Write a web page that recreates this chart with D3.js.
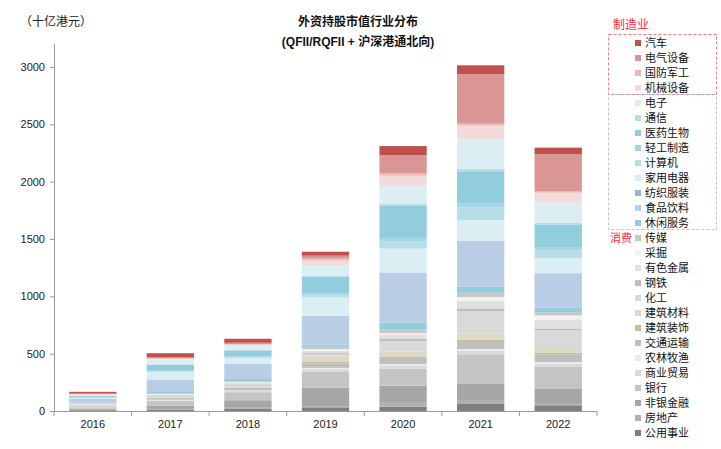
<!DOCTYPE html>
<html>
<head>
<meta charset="utf-8">
<script src="https://cdn.jsdelivr.net/npm/d3@7"></script>
<style>
  body { margin: 0; background: #fff; }
  svg { font-family: "Liberation Sans", "Noto Sans CJK SC", sans-serif; }
</style>
</head>
<body>
<div id="chart"></div>
<script>
/* years on the x-axis */
var years = ["2016", "2017", "2018", "2019", "2020", "2021", "2022"];

/* sectors, bottom of the stack first */
var sectors = ["公用事业", "房地产", "非银金融", "银行", "商业贸易", "农林牧渔", "交通运输",
  "建筑装饰", "建筑材料", "化工", "钢铁", "有色金属", "采掘", "传媒",
  "休闲服务", "食品饮料", "纺织服装", "家用电器", "计算机", "轻工制造", "医药生物", "通信", "电子",
  "机械设备", "国防军工", "电气设备", "汽车"];

var colors = ["#7f7f7f", "#b0b0b0", "#a6a6a6", "#c4c4c4", "#d9d9d9", "#ebebeb", "#bfbfbf",
  "#c4bd97", "#ddd9c4", "#d9d9d9", "#bdbdbd", "#e0e0e0", "#f2f2f2", "#c8c8c8",
  "#93cddd", "#b9cde5", "#95b3d7", "#dbeef4", "#b7dde8", "#a5d5e2", "#92cddc", "#b7dde8", "#dbeef4",
  "#f2dcdb", "#e6b9b8", "#d99694", "#c0504d"];

/* market value per sector (bn HKD), one array per year, same order as sectors */
var v2016 = [7, 3, 10, 12, 3, 2, 6, 2, 5, 6, 2, 3, 2, 4, 4, 34, 2, 6, 3, 3, 11, 3, 8, 4, 2, 6, 14];
var v2017 = [12, 6, 30, 40, 6, 4, 14, 3, 8, 12, 4, 6, 4, 8, 9, 105, 3, 67, 5, 5, 52, 3, 44, 5, 5, 9, 35];
var v2018 = [22, 12, 60, 70, 10, 6, 20, 5, 12, 15, 6, 8, 6, 10, 17, 128, 3, 49, 8, 8, 52, 5, 41, 5, 5, 12, 35];
var v2019 = [32, 6, 166, 140, 20, 12, 38, 15, 47, 20, 9, 20, 15, 20, 20, 244, 6, 160, 23, 15, 140, 12, 87, 47, 20, 20, 35];
var v2020 = [38, 41, 142, 148, 29, 12, 52, 12, 44, 93, 17, 38, 12, 35, 58, 430, 6, 209, 64, 23, 285, 17, 157, 90, 20, 160, 78];
var v2021 = [61, 35, 145, 253, 29, 17, 61, 20, 55, 195, 23, 64, 35, 38, 52, 395, 6, 180, 113, 35, 279, 23, 253, 122, 17, 430, 78];
var v2022 = [50, 12, 135, 192, 23, 15, 64, 17, 41, 154, 17, 78, 35, 29, 38, 294, 6, 131, 70, 23, 203, 15, 174, 87, 15, 320, 58];

var yTicks = [0, 500, 1000, 1500, 2000, 2500, 3000];

/* legend order, as listed on the right */
var legendOrder = sectors.slice().reverse();

var allValues = [v2016, v2017, v2018, v2019, v2020, v2021, v2022];

/* build table rows for d3.stack */
var data = years.map(function(yr, i) {
  var row = { year: yr };
  sectors.forEach(function(s, j) { row[s] = allValues[i][j]; });
  return row;
});

var W = 721, H = 449;
var svg = d3.select("#chart").append("svg")
  .attr("width", W)
  .attr("height", H);

var x = d3.scaleBand().domain(years).range([54, 597])
  .paddingInner(0.39).paddingOuter(0.195);
var y = d3.scaleLinear().domain([0, 3200]).range([411, 44]);
var z = d3.scaleOrdinal().domain(sectors).range(colors);

var stack = d3.stack().keys(sectors);

var layer = svg.selectAll(".layer")
  .data(stack(data))
  .enter().append("g")
  .attr("class", "layer")
  .attr("fill", function(d) { return z(d.key); });

layer.selectAll("rect")
  .data(function(d) { return d; })
  .enter().append("rect")
  .attr("x", function(d) { return x(d.data.year); })
  .attr("width", x.bandwidth())
  .attr("y", function(d) { return y(d[1]); })
  .attr("height", function(d) { return y(d[0]) - y(d[1]); });

/* y axis */
var yAxis = svg.append("g")
  .attr("transform", "translate(54,0)")
  .call(d3.axisLeft(y).tickValues(yTicks).tickFormat(d3.format("d"))
    .tickSize(4).tickPadding(5).tickSizeOuter(0));
yAxis.select(".domain").attr("stroke", "#9a9a9a").attr("d", "M0.5," + y(0) + "V" + y(3200));
yAxis.selectAll(".tick line").attr("stroke", "#9a9a9a");
yAxis.selectAll("text").style("font-size", "11px").attr("fill", "#222");

/* x axis: labels centered, ticks between categories */
var xAxis = svg.append("g")
  .attr("transform", "translate(0,411)")
  .call(d3.axisBottom(x).tickSize(0).tickPadding(9));
xAxis.select(".domain").attr("stroke", "#9a9a9a").attr("d", "M54,0.5H597");
xAxis.selectAll("text").style("font-size", "11px").attr("fill", "#222");

var bounds = years.map(function(yr) { return x(yr) - x.step() * x.paddingInner() / 2; });
bounds.push(597);
xAxis.selectAll(".sep")
  .data(bounds)
  .enter().append("line")
  .attr("class", "sep")
  .attr("x1", function(d) { return d; })
  .attr("x2", function(d) { return d; })
  .attr("y1", 0)
  .attr("y2", 5)
  .attr("stroke", "#9a9a9a");

/* titles */
svg.append("text")
  .attr("x", 20).attr("y", 26)
  .style("font-size", "12px").attr("fill", "#222")
  .text("（十亿港元）");

svg.append("text")
  .attr("x", 358).attr("y", 26)
  .attr("text-anchor", "middle")
  .style("font-size", "12px").style("font-weight", "bold").attr("fill", "#111")
  .text("外资持股市值行业分布");
svg.append("text")
  .attr("x", 358).attr("y", 46)
  .attr("text-anchor", "middle")
  .style("font-size", "12px").style("font-weight", "bold").attr("fill", "#111")
  .text("(QFII/RQFII + 沪深港通北向)");

/* legend */
var legend = svg.append("g").attr("class", "legend");
var item = legend.selectAll(".item")
  .data(legendOrder)
  .enter().append("g")
  .attr("class", "item")
  .attr("transform", function(d, i) { return "translate(635," + (43 + i * 15) + ")"; });
item.append("rect")
  .attr("x", 0).attr("y", -3)
  .attr("width", 6).attr("height", 6)
  .attr("fill", function(d) { return z(d); });
item.append("text")
  .attr("x", 10).attr("y", 0)
  .attr("dy", "0.35em")
  .style("font-size", "11px").attr("fill", "#111")
  .text(function(d) { return d; });

legend.append("rect")
  .attr("x", 608.5).attr("y", 34.5).attr("width", 108).attr("height", 60)
  .attr("fill", "none").attr("stroke", "#f47c86").attr("stroke-dasharray", "3,2");
legend.append("rect")
  .attr("x", 608.5).attr("y", 94.5).attr("width", 108).attr("height", 135)
  .attr("fill", "none").attr("stroke", "#b9c3e3").attr("stroke-dasharray", "3,2");

legend.append("text")
  .attr("x", 613).attr("y", 29)
  .style("font-size", "12px").attr("fill", "#ff2a3a")
  .text("制造业");
legend.append("text")
  .attr("x", 610).attr("y", 238).attr("dy", "0.35em")
  .style("font-size", "11px").attr("fill", "#ff2a3a")
  .text("消费");
</script>
</body>
</html>
